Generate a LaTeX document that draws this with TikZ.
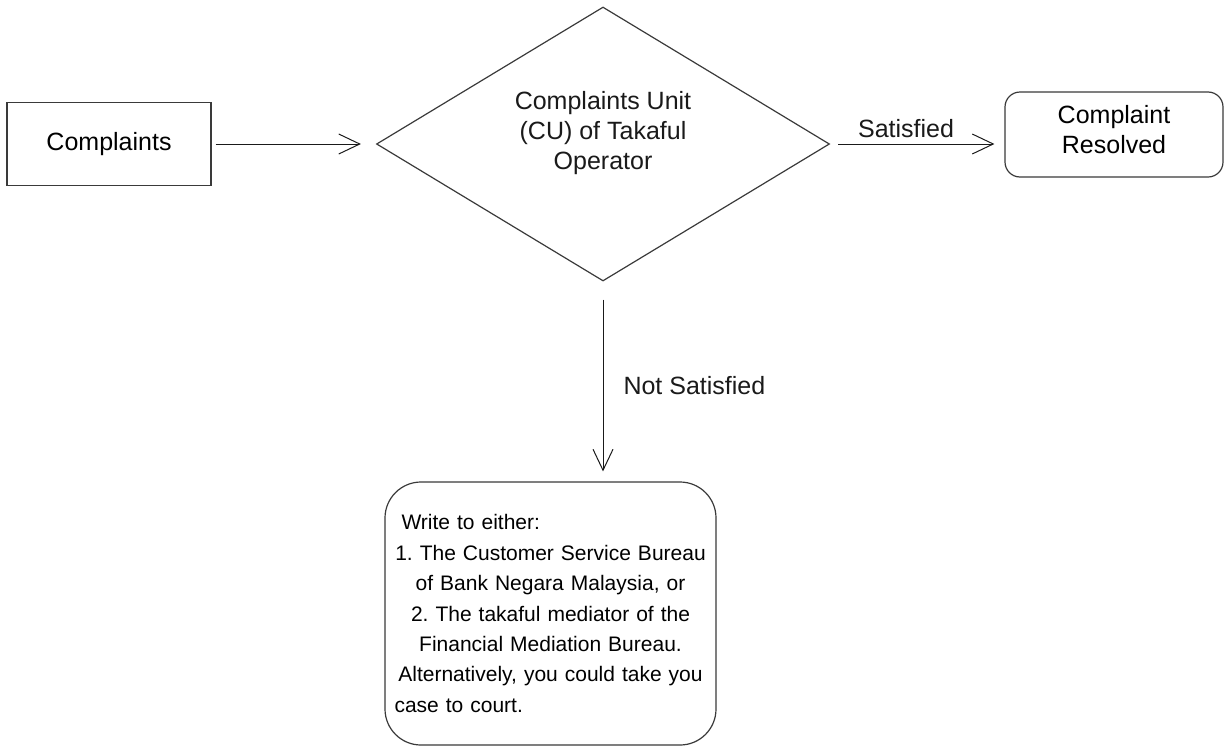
\documentclass[tikz,border=0pt]{standalone}
\usepackage{fontspec}
\setmainfont{Liberation Sans}
\usetikzlibrary{arrows.meta,shapes.geometric}
\definecolor{ink}{HTML}{1A1A1A}
\definecolor{edge}{HTML}{3A3A3A}
\frenchspacing
\tikzset{
  flow/.style={-{Straight Barb[length=10.5pt,width=10pt,line width=.5pt]},draw=ink,line width=.5pt},
  box/.style={draw=edge,line width=.6pt,fill=white,align=center,inner sep=0pt,
    font=\fontsize{12.5pt}{15pt}\selectfont},
  startbox/.style={box,minimum width=102pt,minimum height=41.5pt},
  endbox/.style={box,rounded corners=7.5pt,minimum width=109pt,minimum height=42.5pt},
  decision/.style={diamond,draw=edge,line width=.6pt,inner sep=0pt,
    minimum width=226.5pt,minimum height=137pt},
  advicebox/.style={box,rounded corners=18pt,minimum width=165.5pt,minimum height=131.5pt,
    text width=156pt,font=\fontsize{10.5pt}{15.2pt}\selectfont},
  lbl/.style={font=\fontsize{12.5pt}{15pt}\selectfont,text=ink,inner sep=0pt},
}

\begin{document}
\begin{tikzpicture}[x=.5pt,y=-.5pt]
\useasboundingbox (0,0) rectangle (1225,750);
\node[startbox] (complaints) at (109,144) {Complaints};
\node[decision] (cu) at (603,144) {};
\node[lbl,align=center] (cutext) at (603,133) {Complaints Unit\\(CU) of Takaful\\Operator};
\node[endbox,text depth=5.5pt] (resolved) at (1114,134.5) {Complaint\\Resolved};
\node[advicebox] (advice) at (550.5,613.5) {%
  \makebox[\linewidth][l]{\ Write to either:}\\
  1. The Customer Service Bureau\\
  of Bank Negara Malaysia, or\\
  2. The takaful mediator of the\\
  Financial Mediation Bureau.\\
  Alternatively, you could take you\\
  \makebox[\linewidth][l]{case to court.}};
\draw[flow,shorten <=2pt,shorten >=7.5pt] (complaints.east) -- (cu.west);
\draw[flow,shorten <=4pt,shorten >=5pt] (cu.east) -- (cu.east -| resolved.west)
  node[lbl,anchor=base,pos=.436,yshift=3.5pt] {Satisfied};
\draw[flow,shorten <=9pt,shorten >=5pt] (cu.south) -- (cu.south |- advice.north)
  node[lbl,anchor=base west,pos=.567,xshift=10pt] {Not Satisfied};
\end{tikzpicture}
\end{document}
